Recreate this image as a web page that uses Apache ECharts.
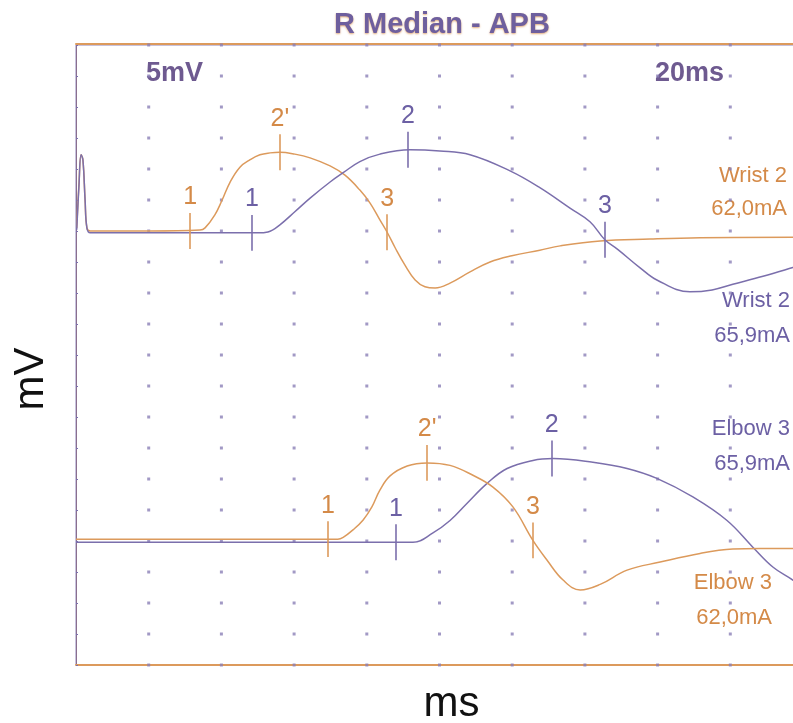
<!DOCTYPE html>
<html>
<head>
<meta charset="utf-8">
<script src="https://cdn.jsdelivr.net/npm/echarts@6/dist/echarts.min.js"></script>
<style>html,body{margin:0;padding:0;background:#fff;}#c{width:793px;height:723px;}</style>
</head>
<body>
<div id="c"></div>
<script>
// ---- Data (time in ms, amplitude in mV relative to each trace's baseline) ----
const wristOrangeT = [0.02,0.08,0.14,0.19,0.25,0.30,0.39,2.04,3.41,3.55,3.82,4.02,4.24,4.51,4.79,5.06,5.34,5.61,6.02,6.44,6.99,7.40,7.81,8.09,8.36,8.56,8.78,9.05,9.33,9.60,9.88,10.29,10.84,11.39,11.99,12.76,13.32,14.42,15.79,17.17,20.0];
const wristOrangeA = [0.5,7.4,12.3,11.5,5.0,0.5,0,0,0.15,0.5,2.6,5.0,7.9,10.3,11.5,12.3,12.6,12.7,12.4,11.8,10.5,9.0,6.6,4.5,1.8,-0.2,-2.7,-5.5,-7.9,-9.0,-9.2,-8.4,-6.6,-5.0,-4.0,-3.1,-2.4,-1.6,-1.3,-1.1,-1.0];

const wristPurpleT = [0.02,0.08,0.14,0.19,0.25,0.30,0.39,5.0,5.28,5.61,6.02,6.44,6.99,7.35,7.81,8.36,9.19,10.01,10.84,11.94,12.76,13.59,14.14,14.55,14.91,15.51,15.98,16.89,17.50,18.07,18.90,19.72,20.0];
const wristPurpleA = [0.5,7.4,12.6,11.8,5.3,0.8,0,0,0.15,1.3,3.4,5.6,8.2,9.7,11.5,12.7,13.4,13.2,12.6,10.0,7.3,4.0,1.8,-1.1,-2.7,-5.6,-7.6,-9.5,-9.2,-8.3,-7.0,-5.6,-5.1];

const elbowOrangeT = [0,7.2,7.35,7.62,7.90,8.14,8.36,8.64,9.11,9.66,10.29,10.92,11.47,12.02,12.57,12.96,13.40,13.87,14.42,15.16,16.07,17.17,18.07,18.82,20.0];
const elbowOrangeA = [0,0,0.3,1.5,3.1,5.2,7.9,10.2,11.8,12.3,11.9,10.3,8.4,5.2,-0.2,-3.4,-6.6,-8.2,-7.3,-5.0,-3.7,-2.3,-1.6,-1.5,-1.5];

const elbowPurpleT = [0,9.27,9.82,10.29,10.76,11.31,11.86,12.57,13.12,14.22,15.16,15.98,16.97,17.91,18.62,19.17,19.72,20.0];
const elbowPurpleA = [0,0,1.5,3.5,6.3,9.5,11.9,13.2,13.5,12.9,11.9,10.3,7.3,3.5,-0.8,-4.0,-6.1,-7.3];

// baselines (display offsets, mV)
const baseWristOrange = 20;
const baseWristPurple = 19.7;
const baseElbowOrange = -29.7;
const baseElbowPurple = -30.2;

// latency markers: time (ms), amplitude (mV), label
const wristOrangeMarkT = [3.14, 5.61, 8.56];
const wristOrangeMarkA = [0, 12.7, -0.2];
const wristOrangeMarkL = ['1', "2'", '3'];
const wristPurpleMarkT = [4.84, 9.13, 14.55];
const wristPurpleMarkA = [0, 13.4, -1.1];
const wristPurpleMarkL = ['1', '2', '3'];
const elbowOrangeMarkT = [6.93, 9.66, 12.57];
const elbowOrangeMarkA = [0, 12.3, -0.2];
const elbowOrangeMarkL = ['1', "2'", '3'];
const elbowPurpleMarkT = [8.80, 13.09];
const elbowPurpleMarkA = [0, 13.5];
const elbowPurpleMarkL = ['1', '2'];

// axis settings
const X_MIN = 0, X_MAX = 20, X_STEP = 2;
const Y_MIN = -50, Y_MAX = 50, Y_STEP = 5;

const ORANGE = '#dc9a5c';
const PURPLE = '#7b6fac';
const ORANGE_TXT = '#d48a48';
const PURPLE_TXT = '#6c60a4';
const MARK_HALF = 2.9;

function toData(T, A, base) { return T.map((t, i) => [t, base + A[i]]); }
function marks(T, A, L, base) {
  return T.map((t, i) => [
    { coord: [t, base + A[i] - MARK_HALF] },
    { coord: [t, base + A[i] + MARK_HALF], name: L[i] }
  ]);
}

// dot grid at axis intersections
const dots = [];
for (let x = X_MIN + X_STEP; x < X_MAX; x += X_STEP) {
  for (let y = Y_MIN; y <= Y_MAX; y += Y_STEP) dots.push([x, y]);
}

function trace(name, T, A, base, color, mT, mA, mL, txtColor) {
  return {
    name, type: 'line', data: toData(T, A, base), showSymbol: false, symbol: 'none',
    smooth: 0.4, sampling: null,
    lineStyle: { color, width: 1.5 }, silent: true, z: 3,
    markLine: {
      silent: true, symbol: 'none', animation: false,
      lineStyle: { color, width: 1.6, type: 'solid' },
      label: { show: true, position: 'end', formatter: p => p.name, color: txtColor,
               fontSize: 25, fontFamily: 'Liberation Sans, Arial', distance: 3 },
      data: marks(mT, mA, mL, base)
    }
  };
}

const chart = echarts.init(document.getElementById('c'), null, { renderer: 'canvas' });
chart.setOption({
  animation: false,
  backgroundColor: '#ffffff',
  title: {
    text: 'R Median - APB', left: 329, top: 5,
    textStyle: { fontSize: 29, fontWeight: 'bold', color: '#6e5f9e', fontFamily: 'Liberation Sans, Arial',
                 textShadowColor: 'rgba(217,150,90,0.8)', textShadowBlur: 2, textShadowOffsetY: 1 }
  },
  grid: { left: 76, width: 727, top: 45, bottom: 58, show: true, borderColor: '#8f84ba', borderWidth: 1,
          containLabel: false, outerBoundsMode: 'none' },
  xAxis: [
    { type: 'value', min: X_MIN, max: X_MAX, interval: X_STEP, position: 'bottom',
      name: 'ms', nameLocation: 'middle', nameGap: 18,
      nameTextStyle: { fontSize: 42, color: '#111', fontFamily: 'Liberation Sans, Arial', padding: [0, 0, 0, 24] },
      axisLine: { show: true, onZero: false, lineStyle: { color: ORANGE, width: 2 } },
      axisTick: { show: false }, axisLabel: { show: false }, splitLine: { show: false } },
    { type: 'value', min: X_MIN, max: X_MAX, interval: X_STEP, position: 'top', offset: 1,
      axisLine: { show: true, onZero: false, lineStyle: { color: ORANGE, width: 2 } },
      axisTick: { show: false }, axisLabel: { show: false }, splitLine: { show: false } }
  ],
  yAxis: {
    type: 'value', min: Y_MIN, max: Y_MAX, interval: Y_STEP,
    name: 'mV', nameLocation: 'middle', nameGap: 24, nameRotate: 90,
    nameTextStyle: { fontSize: 42, color: '#111', fontFamily: 'Liberation Sans, Arial', padding: [0, 48, 0, 0] },
    axisLine: { show: true, onZero: false, lineStyle: { color: '#8a6f8e', width: 1 } },
    axisTick: { show: true, inside: true, length: 2, lineStyle: { color: PURPLE } },
    axisLabel: { show: false }, splitLine: { show: false }
  },
  graphic: [
    { type: 'text', left: 146, top: 60, style: { text: '5mV', fontSize: 27, fontWeight: 'bold', fill: '#6e5a90',
      fontFamily: 'Liberation Sans, Arial', shadowColor: 'rgba(217,150,90,0.8)', shadowBlur: 2, shadowOffsetY: 1 } },
    { type: 'text', left: 655, top: 60, style: { text: '20ms', fontSize: 27, fontWeight: 'bold', fill: '#6e5a90',
      fontFamily: 'Liberation Sans, Arial', shadowColor: 'rgba(217,150,90,0.8)', shadowBlur: 2, shadowOffsetY: 1 } },
    { type: 'text', right: 6, top: 165, style: { text: 'Wrist 2', fontSize: 22, fill: ORANGE_TXT, fontFamily: 'Liberation Sans, Arial', align: 'right' } },
    { type: 'text', right: 6, top: 198, style: { text: '62,0mA', fontSize: 22, fill: ORANGE_TXT, fontFamily: 'Liberation Sans, Arial', align: 'right' } },
    { type: 'text', right: 3, top: 290, style: { text: 'Wrist 2', fontSize: 22, fill: PURPLE_TXT, fontFamily: 'Liberation Sans, Arial', align: 'right' } },
    { type: 'text', right: 3, top: 325, style: { text: '65,9mA', fontSize: 22, fill: PURPLE_TXT, fontFamily: 'Liberation Sans, Arial', align: 'right' } },
    { type: 'text', right: 3, top: 418, style: { text: 'Elbow 3', fontSize: 22, fill: PURPLE_TXT, fontFamily: 'Liberation Sans, Arial', align: 'right' } },
    { type: 'text', right: 3, top: 453, style: { text: '65,9mA', fontSize: 22, fill: PURPLE_TXT, fontFamily: 'Liberation Sans, Arial', align: 'right' } },
    { type: 'text', right: 21, top: 572, style: { text: 'Elbow 3', fontSize: 22, fill: ORANGE_TXT, fontFamily: 'Liberation Sans, Arial', align: 'right' } },
    { type: 'text', right: 21, top: 607, style: { text: '62,0mA', fontSize: 22, fill: ORANGE_TXT, fontFamily: 'Liberation Sans, Arial', align: 'right' } }
  ],
  series: [
    { name: 'grid dots', type: 'scatter', data: dots, symbol: 'rect', symbolSize: 3, silent: true, z: 1,
      itemStyle: { color: '#8b7fb6' } },
    trace('Wrist 2 (62,0mA)', wristOrangeT, wristOrangeA, baseWristOrange, ORANGE, wristOrangeMarkT, wristOrangeMarkA, wristOrangeMarkL, ORANGE_TXT),
    trace('Wrist 2 (65,9mA)', wristPurpleT, wristPurpleA, baseWristPurple, PURPLE, wristPurpleMarkT, wristPurpleMarkA, wristPurpleMarkL, PURPLE_TXT),
    trace('Elbow 3 (65,9mA)', elbowPurpleT, elbowPurpleA, baseElbowPurple, PURPLE, elbowPurpleMarkT, elbowPurpleMarkA, elbowPurpleMarkL, PURPLE_TXT),
    trace('Elbow 3 (62,0mA)', elbowOrangeT, elbowOrangeA, baseElbowOrange, ORANGE, elbowOrangeMarkT, elbowOrangeMarkA, elbowOrangeMarkL, ORANGE_TXT)
  ]
});
</script>
</body>
</html>
